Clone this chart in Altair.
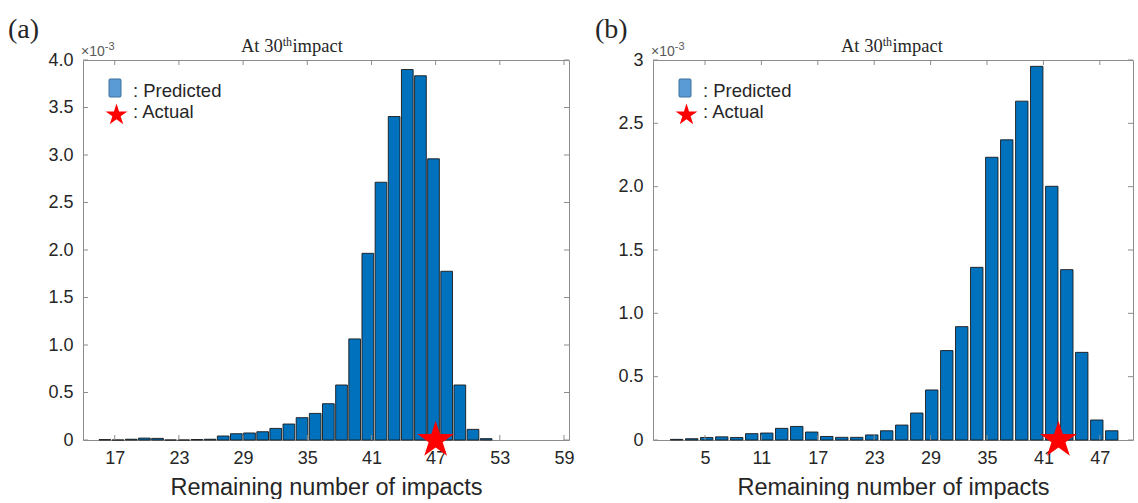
import altair as alt
import pandas as pd

# Panel (a): histogram bin centres (remaining impacts) and densities (x10^-3)
bins_a = [16.08, 17.31, 18.54, 19.77, 21.00, 22.22, 23.45, 24.68, 25.91, 27.14,
          28.37, 29.60, 30.83, 32.05, 33.28, 34.51, 35.74, 36.97, 38.20, 39.43,
          40.66, 41.89, 43.12, 44.35, 45.58, 46.80, 48.03, 49.26, 50.49, 51.72]
dens_a = [0.004, 0.0, 0.008, 0.020, 0.017, 0.0, 0.0, 0.005, 0.008, 0.042,
          0.066, 0.074, 0.087, 0.122, 0.168, 0.235, 0.280, 0.382, 0.579, 1.064,
          1.965, 2.713, 3.405, 3.900, 3.834, 2.960, 1.776, 0.579, 0.112, 0.014]
actual_a = 47.0

# Panel (b)
bins_b = [1.99, 3.59, 5.18, 6.78, 8.37, 9.97, 11.57, 13.16, 14.76, 16.35,
          17.95, 19.55, 21.14, 22.74, 24.33, 25.93, 27.53, 29.12, 30.72, 32.31,
          33.91, 35.51, 37.10, 38.70, 40.29, 41.89, 43.49, 45.08, 46.68, 48.27]
dens_b = [0.005, 0.010, 0.020, 0.025, 0.020, 0.050, 0.055, 0.092, 0.107, 0.063,
          0.028, 0.021, 0.021, 0.040, 0.073, 0.118, 0.213, 0.395, 0.706, 0.895,
          1.363, 2.232, 2.370, 2.675, 2.950, 2.003, 1.345, 0.692, 0.158, 0.073]
actual_b = 42.6

xticks_a = [17, 23, 29, 35, 41, 47, 53, 59]
yticks_a = [0, 0.5, 1.0, 1.5, 2.0, 2.5, 3.0, 3.5, 4.0]
xticks_b = [5, 11, 17, 23, 29, 35, 41, 47]
yticks_b = [0, 0.5, 1.0, 1.5, 2.0, 2.5, 3.0]

STAR = ("M0,-1L0.2245,-0.309L0.951,-0.309L0.363,0.118L0.588,0.809L0,0.382"
        "L-0.588,0.809L-0.363,0.118L-0.951,-0.309L-0.2245,-0.309Z")

SANS = "Liberation Sans"
SERIF = "Liberation Serif"
INK = "#262626"
BOX = "#8c8c8c"
BAR = "#0072BD"
ONE = pd.DataFrame({"k": [0]})


def note(text, x, y, size, font=SANS, color=INK, align="left", baseline="alphabetic"):
    return alt.Chart(pd.DataFrame({"t": [text]})).mark_text(
        font=font, fontSize=size, color=color, align=align, baseline=baseline
    ).encode(x=alt.value(x), y=alt.value(y), text="t:N")


def panel(tag, tag_x, bins, dens, actual, xdom, ydom, xticks, yticks, yfmt,
          w, h, bar_w, title_x):
    xs = alt.Scale(domain=xdom, nice=False, zero=False)
    ys = alt.Scale(domain=ydom, nice=False, zero=True)
    xaxis = alt.Axis(values=xticks, title="Remaining number of impacts", grid=False,
                     domain=False, ticks=False, tickSize=0, labelFlush=False,
                     labelOverlap=False, labelFont=SANS, labelFontSize=18,
                     labelColor=INK, labelPadding=9, titleFont=SANS,
                     titleFontSize=23.5, titleFontWeight="normal", titleColor=INK,
                     titlePadding=8)
    yaxis = alt.Axis(values=yticks, title=None, grid=False, domain=False, ticks=False,
                     tickSize=0, labelFlush=False, labelOverlap=False, labelExpr=yfmt,
                     labelFont=SANS, labelFontSize=18, labelColor=INK, labelPadding=10)

    def X(f):
        return alt.X(f, type="quantitative", scale=xs, axis=xaxis)

    def Y(f):
        return alt.Y(f, type="quantitative", scale=ys, axis=yaxis)

    hist = pd.DataFrame({"bin": bins, "density": dens})
    bars = alt.Chart(hist).mark_bar(
        size=bar_w, color=BAR, stroke="#1a1a1a", strokeWidth=0.9
    ).encode(x=X("bin"), y=Y("density"))

    # inward-pointing ticks on all four sides of the box
    xt = pd.DataFrame({"tick": xticks})
    yt = pd.DataFrame({"tick": yticks})
    L = 5
    rule = dict(color=BOX, strokeWidth=1)
    t_bottom = alt.Chart(xt).mark_rule(**rule).encode(
        x=X("tick"), y=alt.value(h - L), y2=alt.value(h))
    t_top = alt.Chart(xt).mark_rule(**rule).encode(
        x=X("tick"), y=alt.value(0), y2=alt.value(L))
    t_left = alt.Chart(yt).mark_rule(**rule).encode(
        y=Y("tick"), x=alt.value(0), x2=alt.value(L))
    t_right = alt.Chart(yt).mark_rule(**rule).encode(
        y=Y("tick"), x=alt.value(w - L), x2=alt.value(w))

    star = alt.Chart(pd.DataFrame({"impacts": [actual], "density": [0.0]})).mark_point(
        shape=STAR, filled=True, size=1500, color="#ff0000", opacity=1, strokeWidth=0
    ).encode(x=X("impacts"), y=Y("density"))

    key_box = alt.Chart(ONE).mark_rect(
        fill="#5B9BD5", stroke="#41719C", strokeWidth=1, cornerRadius=1
    ).encode(x=alt.value(26), x2=alt.value(38), y=alt.value(19), y2=alt.value(37))
    key_star = alt.Chart(ONE).mark_point(
        shape=STAR, filled=True, size=520, color="#ff0000", opacity=1, strokeWidth=0
    ).encode(x=alt.value(33.5), y=alt.value(55))

    texts = [
        note(": Predicted", 50, 30.5, 18.5, baseline="middle"),
        note(": Actual", 50, 52, 18.5, baseline="middle"),
        note("At 30", title_x, -8, 18.5, font=SERIF),
        note("th", title_x + 2.25 * 18.5, -14, 12, font=SERIF),
        note("impact", title_x + 2.25 * 18.5 + 0.778 * 12 + 0.5, -8, 18.5, font=SERIF),
        note("\u00d710", -2, -4, 14, color="#595959"),
        note("-3", -2 + 1.7 * 14, -10, 11, color="#595959"),
        note(f"({tag})", tag_x, -30, 28, font=SERIF, baseline="middle"),
    ]

    return alt.layer(bars, t_bottom, t_top, t_left, t_right, star, key_box, key_star,
                     *texts).properties(width=w, height=h)


fmt_a = "datum.value == 0 ? '0' : format(datum.value, '.1f')"
fmt_b = ("datum.value == 0 ? '0' : (datum.value == 3 ? '3' : "
         "format(datum.value, '.1f'))")

pa = panel("a", -75, bins_a, dens_a, actual_a, [14.5, 59], [0, 4.0],
           xticks_a, yticks_a, fmt_a, 486, 380, 11.7, 158)
pb = panel("b", -58, bins_b, dens_b, actual_b, [0, 50], [0, 3.0],
           xticks_b, yticks_b, fmt_b, 480, 380, 12.4, 188)

chart = alt.hconcat(pa, pb, spacing=19).properties(
    padding={"left": 7, "top": 15, "right": 1, "bottom": 0},
    background="white",
).configure_view(stroke=BOX, strokeWidth=1)

chart.save("out.html", embed_options={"renderer": "svg", "actions": False})
